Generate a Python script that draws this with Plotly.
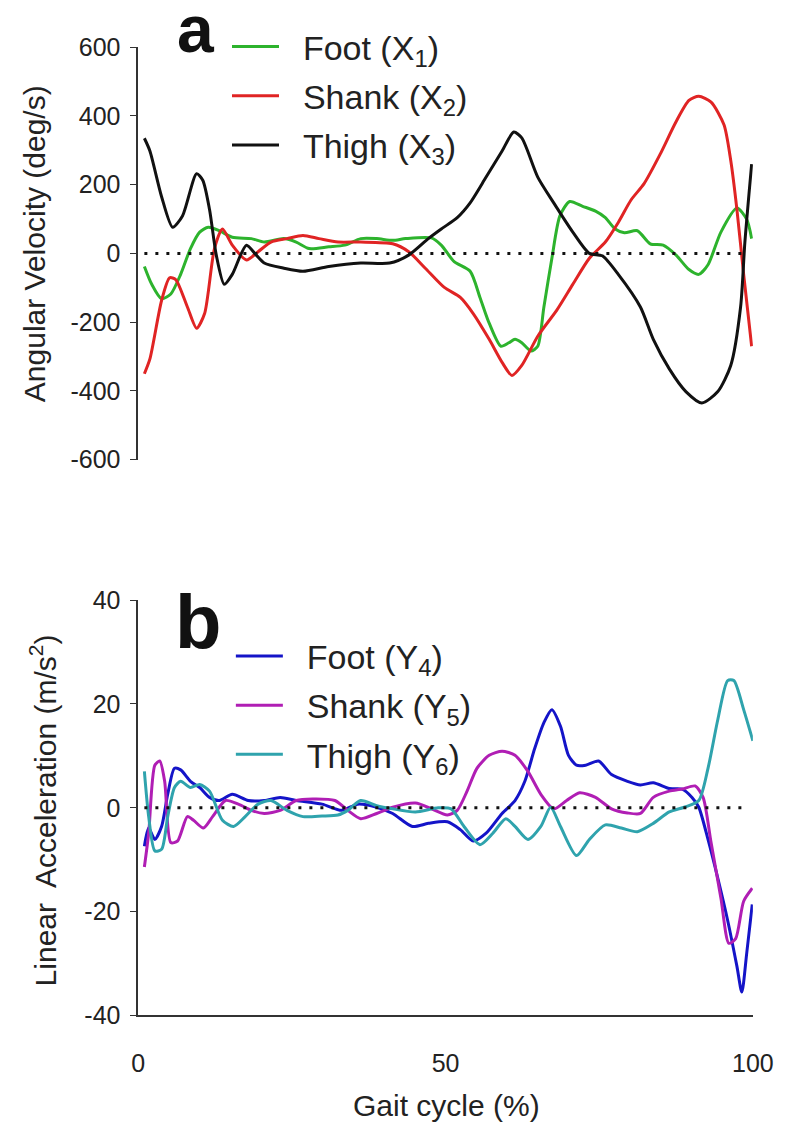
import plotly.graph_objects as go

# ---------------- Panel a: angular velocity (deg/s) ----------------
foot_a_x = [1.0, 2.2, 3.8, 5.3, 6.9, 8.5, 10.0, 11.4, 13.2, 15.3, 18.4, 20.5, 23.7, 25.7, 27.8, 31.0,
            33.6, 36.2, 38.8, 41.4, 43.5, 47.7, 49.3, 51.4, 54.0, 55.6, 57.1, 59.0, 60.3, 61.3, 62.4,
            63.9, 65.0, 66.0, 67.3, 68.6, 70.2, 72.3, 74.4, 76.0, 77.6, 79.1, 81.2, 83.3, 85.4, 87.5,
            89.6, 91.2, 92.7, 94.8, 97.4, 99.0, 99.8]
foot_a_y = [-38, -90, -132, -118, -61, 14, 62, 76, 66, 47, 43, 33, 43, 33, 14, 19,
            24, 43, 43, 38, 43, 45, 24, -24, -52, -128, -203, -270, -260, -250, -260,
            -284, -270, -156, -14, 109, 151, 137, 123, 104, 71, 60, 66, 28, 24, -5,
            -47, -61, -33, 62, 132, 99, 43]

shank_a_x = [1.0, 1.9, 3.8, 5.1, 6.1, 8.0, 9.5, 10.8, 12.4, 13.7, 15.3, 17.6, 19.5, 21.6, 24.2,
             26.8, 29.4, 32.5, 36.2, 41.4, 44.0, 46.7, 49.8, 52.4, 54.5, 57.1, 59.2, 60.8, 62.4,
             65.0, 68.1, 70.7, 73.4, 76.0, 78.1, 80.2, 82.3, 84.9, 87.5, 89.6, 91.2, 93.2, 95.3,
             96.4, 97.4, 98.5, 99.8]
shank_a_y = [-350, -307, -137, -71, -76, -156, -218, -175, 14, 71, 24, -19, 5, 33, 43,
             52, 43, 33, 33, 28, 5, -43, -99, -128, -175, -250, -317, -355, -326,
             -241, -165, -90, -14, 33, 90, 156, 203, 288, 383, 445, 457, 440, 374,
             270, 128, -61, -270]

thigh_a_x = [1.0, 1.9, 3.8, 5.6, 7.2, 9.5, 10.5, 11.6, 12.7, 14.0, 15.3, 17.6, 19.2, 20.5, 23.7,
             26.8, 31.0, 36.2, 40.9, 44.0, 47.2, 49.3, 51.9, 54.0, 56.6, 59.2, 61.1, 62.4, 65.0,
             67.6, 70.7, 73.4, 75.5, 78.1, 81.7, 83.8, 86.4, 89.1, 91.7, 94.3, 96.4, 98.0, 98.7,
             99.8]
thigh_a_y = [335, 298, 165, 76, 109, 232, 213, 128, -5, -90, -61, 24, -5, -28, -43,
             -52, -38, -28, -28, -5, 43, 71, 104, 147, 222, 298, 353, 336, 222,
             147, 62, 0, -7, -61, -156, -250, -336, -402, -435, -402, -326, -156, 33,
             260]

# ---------------- Panel b: linear acceleration (m/s^2) ----------------
foot_b_x = [1.0, 1.7, 2.7, 3.8, 4.8, 5.9, 6.9, 8.5, 10.0, 11.6, 13.2, 15.3, 17.9, 20.5, 23.1,
            25.7, 29.9, 33.1, 35.7, 38.8, 41.4, 44.6, 47.2, 50.3, 52.4, 54.5, 56.6, 59.2, 61.3,
            62.9, 64.5, 66.0, 67.3, 68.7, 70.0, 71.3, 72.8, 74.9, 77.0, 79.6, 81.7, 83.8, 86.4,
            88.5, 90.1, 91.2, 92.7, 94.3, 95.9, 97.4, 98.2, 99.0, 99.9]
foot_b_y = [-7.4, -3.9, -6.1, -3.6, 2.6, 7.6, 7.3, 5.1, 3.9, 2.0, 1.4, 2.6, 1.4, 1.4, 2.0,
            1.4, 0.7, -0.5, 0.7, 0.1, -1.1, -3.6, -3.0, -2.7, -4.2, -6.4, -4.9, -1.1, 1.4,
            5.1, 11.4, 16.4, 18.9, 15.7, 10.1, 8.2, 8.2, 9.0, 6.4, 5.1, 4.4, 4.8, 3.7,
            3.6, 2.0, 0.1, -6.1, -13.6, -21.7, -30.5, -35.5, -28.0, -18.6]

shank_b_x = [1.0, 1.7, 2.7, 3.5, 4.3, 5.3, 6.4, 8.0, 9.0, 10.6, 12.1, 14.2, 16.3, 18.4, 20.5,
             23.1, 25.7, 28.4, 32.0, 34.1, 36.2, 38.8, 41.4, 45.1, 47.7, 50.3, 51.9, 53.5, 55.1,
             57.1, 59.2, 61.3, 63.4, 65.5, 67.6, 69.7, 71.8, 74.4, 77.0, 79.6, 81.7, 83.8, 86.4,
             88.5, 90.6, 91.9, 93.2, 94.8, 96.1, 97.2, 98.5, 99.9]
shank_b_y = [-11.4, -4.9, 8.2, 9.0, 5.1, -6.7, -6.4, -1.7, -2.4, -3.9, -1.7, 1.4, 0.7, -0.5, -1.1,
             -0.5, 1.4, 1.7, 1.4, -0.5, -2.1, -1.1, 0.1, 0.9, -0.2, -1.4, -0.5, 3.2, 7.6,
             10.1, 10.9, 10.1, 7.0, 2.6, -0.2, 1.4, 2.9, 2.0, -0.2, -1.0, -1.1, 2.0, 3.2,
             3.6, 4.2, 2.0, -6.7, -17.4, -26.1, -25.2, -18.0, -15.5]

thigh_b_x = [1.0, 1.7, 2.7, 3.8, 4.8, 5.9, 6.9, 8.5, 10.0, 11.6, 13.7, 15.5, 17.4, 19.5, 21.6,
             24.2, 26.8, 29.9, 32.5, 34.1, 36.2, 38.8, 41.4, 45.1, 48.8, 50.9, 53.0, 55.6, 57.7,
             59.8, 61.3, 63.4, 65.5, 67.1, 68.7, 71.3, 73.4, 76.0, 78.6, 81.2, 83.8, 86.4, 89.1,
             91.2, 92.7, 94.3, 95.9, 96.9, 98.5, 100.0]
thigh_b_y = [7.0, -1.7, -8.3, -8.0, -1.7, 3.9, 5.1, 3.9, 4.5, 3.2, -2.4, -3.6, -1.7, 0.7, 1.4,
             -0.5, -1.7, -1.6, -1.4, -0.5, 1.4, 0.4, -0.2, -0.8, 0.0, -0.2, -3.6, -7.1, -4.9,
             -2.1, -3.6, -6.1, -3.6, 0.1, -3.6, -9.2, -6.1, -3.3, -3.9, -4.6, -3.0, -0.8, 0.2,
             1.4, 7.6, 17.0, 24.5, 24.5, 18.9, 12.9]

names_a = ["Foot (X<sub>1</sub>)", "Shank (X<sub>2</sub>)", "Thigh (X<sub>3</sub>)"]
names_b = ["Foot (Y<sub>4</sub>)", "Shank (Y<sub>5</sub>)", "Thigh (Y<sub>6</sub>)"]
colors_a = ["#2db32d", "#e02424", "#111111"]
colors_b = ["#1414c8", "#b01eb4", "#2fa3ad"]
x_ticks = [0, 50, 100]
ya_ticks = [-600, -400, -200, 0, 200, 400, 600]
yb_ticks = [-40, -20, 0, 20, 40]

W, H = 798, 1127
REG = "Liberation Sans, Arial"
TICKF = dict(family=REG, size=25, color="#222")
PAD = "\u00a0\u00a0"

fig = go.Figure()
series_a = [(foot_a_x, foot_a_y), (shank_a_x, shank_a_y), (thigh_a_x, thigh_a_y)]
series_b = [(foot_b_x, foot_b_y), (shank_b_x, shank_b_y), (thigh_b_x, thigh_b_y)]
for i, (xs, ys) in enumerate(series_a):
    fig.add_trace(go.Scatter(x=xs, y=ys, mode="lines", name=PAD + names_a[i],
                             line=dict(color=colors_a[i], width=3, shape="spline", smoothing=0.7),
                             xaxis="x", yaxis="y", legend="legend", legendgroup="a%d" % i))
for i, (xs, ys) in enumerate(series_b):
    fig.add_trace(go.Scatter(x=xs, y=ys, mode="lines", name=PAD + names_b[i],
                             line=dict(color=colors_b[i], width=3, shape="spline", smoothing=0.7),
                             xaxis="x2", yaxis="y2", legend="legend2", legendgroup="b%d" % i))

xdom = [136 / W, 773 / W]
fig.update_layout(
    width=W, height=H, margin=dict(l=0, r=0, t=0, b=0),
    paper_bgcolor="white", plot_bgcolor="white",
    xaxis=dict(domain=xdom, range=[0, 100], visible=False, anchor="y"),
    yaxis=dict(domain=[1 - 457 / H, 1 - 34 / H], range=[-600, 600], tickvals=ya_ticks,
               ticktext=[str(v) for v in ya_ticks],
               showline=True, linecolor="#333", linewidth=1.5, ticks="outside", ticklen=6,
               tickcolor="#333", showgrid=False, zeroline=False, anchor="x",
               ticklabelstandoff=5, tickfont=TICKF),
    xaxis2=dict(domain=xdom, range=[0, 100], tickvals=x_ticks, ticktext=[str(v) for v in x_ticks],
                showline=True, linecolor="#333", linewidth=1.5, ticks="", showgrid=False,
                zeroline=False, anchor="y2", ticklabelstandoff=25, tickfont=TICKF),
    yaxis2=dict(domain=[1 - 1027 / H, 1 - 601 / H], range=[-40, 40], tickvals=yb_ticks,
                ticktext=[str(v) for v in yb_ticks],
                showline=True, linecolor="#333", linewidth=1.5, ticks="outside", ticklen=6,
                tickcolor="#333", showgrid=False, zeroline=False, anchor="x2",
                ticklabelstandoff=5, tickfont=TICKF),
    legend=dict(x=228 / W, y=1 - 4 / H, xanchor="left", yanchor="top", bgcolor="rgba(0,0,0,0)",
                font=dict(family=REG, size=34, color="#222"), tracegroupgap=2, itemwidth=47),
    legend2=dict(x=232 / W, y=1 - 629 / H, xanchor="left", yanchor="top", bgcolor="rgba(0,0,0,0)",
                 font=dict(family=REG, size=34, color="#222"), tracegroupgap=2, itemwidth=47),
    showlegend=True,
)

# dotted zero reference lines
for xr, yr in (("x", "y"), ("x2", "y2")):
    fig.add_shape(type="line", xref=xr, yref=yr, x0=1, x1=99, y0=0, y1=0,
                  line=dict(color="#111", width=3, dash="3px,8px"))

fig.add_annotation(text="<b>a</b>", xref="paper", yref="paper", x=174 / W, y=1 - 15 / H,
                   xanchor="left", yanchor="middle", showarrow=False,
                   font=dict(family=REG, size=66, color="#111"))
fig.add_annotation(text="<b>b</b>", xref="paper", yref="paper", x=172 / W, y=1 - 623 / H,
                   xanchor="left", yanchor="middle", showarrow=False,
                   font=dict(family=REG, size=76, color="#111"))

fig.add_annotation(text="Angular Velocity (deg/s)", xref="paper", yref="paper", x=28 / W, y=1 - 236 / H,
                   xanchor="center", yanchor="middle", textangle=-90, showarrow=False,
                   font=dict(family=REG, size=30, color="#222"))
fig.add_annotation(text="Linear  Acceleration (m/s<sup>2</sup>)", xref="paper", yref="paper",
                   x=37 / W, y=1 - 817 / H, xanchor="center", yanchor="middle", textangle=-90,
                   showarrow=False, font=dict(family=REG, size=30, color="#222"))
fig.add_annotation(text="Gait cycle (%)", xref="paper", yref="paper", x=455 / W, y=-11 / H,
                   xanchor="center", yanchor="bottom", showarrow=False,
                   font=dict(family=REG, size=30, color="#222"))

fig.write_html("out.html")
